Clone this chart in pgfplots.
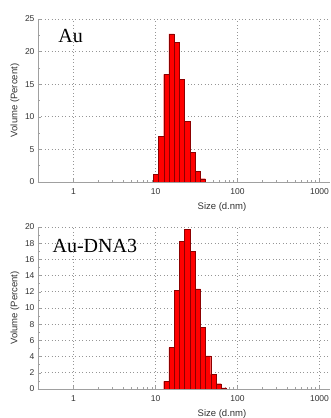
\documentclass[border=0pt]{standalone}
\usepackage{fontspec}
\setmainfont{Liberation Sans}
\newfontfamily\seriffont{Liberation Serif}
\usepackage{pgfplots}
\pgfplotsset{compat=1.18}
\definecolor{barred}{RGB}{255,0,0}
\definecolor{baredge}{RGB}{140,0,0}
\definecolor{axgray}{RGB}{160,160,160}
\definecolor{gridgray}{RGB}{150,150,150}
\definecolor{labgray}{RGB}{50,50,50}
\pgfplotsset{
  dlsaxis/.style={
    scale only axis, width=292pt,
    xmin=0.369, xmax=1343, ymin=0,
    axis lines=left, axis line style={-, draw=axgray, line width=0.6pt},
    xtick={1,10,100,1000}, xticklabels={1,10,100,1000},
    minor xtick={2,3,...,9,20,30,...,90,200,300,...,900},
    grid=major,
    major grid style={draw=gridgray, line width=0.7pt, dash pattern=on 0.8pt off 2.6pt},
    tick style={draw=axgray, line width=0.5pt},
    tick align=inside,
    major tick length=3pt, minor tick length=2pt,
    ticklabel style={font=\fontsize{8.5}{10}\selectfont, text=labgray},
    xticklabel style={yshift=-3pt},
    /pgf/number format/assume math mode=true,
    xlabel={Size (d.nm)}, ylabel={Volume (Percent)},
    label style={font=\fontsize{9.5}{11}\selectfont, text=labgray},
    xlabel style={at={([yshift=-25pt]axis description cs:0.63,0)}, anchor=center},
    ylabel style={at={([xshift=-23pt]axis description cs:0,0.5)}, anchor=center},
  },
}
\begin{document}
\begin{tikzpicture}
\useasboundingbox (0,0) rectangle (330pt,418pt);
% Top: Au
\begin{semilogxaxis}[dlsaxis, at={(38pt,236pt)}, anchor=south west, height=163pt,
  ymax=25, ytick={0,5,...,25}, minor ytick={2.5,7.5,...,22.5}]
\addplot[ybar interval, fill=barred, draw=baredge, line width=0.4pt] coordinates {
 (9.38,1.2) (10.87,7.0) (12.59,16.5) (14.58,22.7) (16.88,21.4)
 (19.55,15.7) (22.64,9.3) (26.22,4.5) (30.36,1.6) (35.16,0.5) (40.70,0.5)
};
\node[anchor=base west, font=\seriffont\fontsize{20}{24}\selectfont] at (axis description cs:0.058,0.853) {Au};
\end{semilogxaxis}
% Bottom: Au-DNA3
\begin{semilogxaxis}[dlsaxis, at={(38pt,29pt)}, anchor=south west, height=162pt,
  ymax=20, ytick={0,2,...,20}, minor y tick num=1]
\addplot[ybar interval, fill=barred, draw=baredge, line width=0.4pt] coordinates {
 (12.59,0.95) (14.58,5.1) (16.88,12.2) (19.55,18.2) (22.64,19.7)
 (26.22,17.0) (30.36,12.35) (35.16,7.65) (40.70,4.1) (47.14,1.8)
 (54.59,0.65) (63.23,0.15) (73.22,0.15)
};
\node[anchor=base west, font=\seriffont\fontsize{20}{24}\selectfont] at (axis description cs:0.038,0.84) {Au-DNA3};
\end{semilogxaxis}
\end{tikzpicture}
\end{document}
